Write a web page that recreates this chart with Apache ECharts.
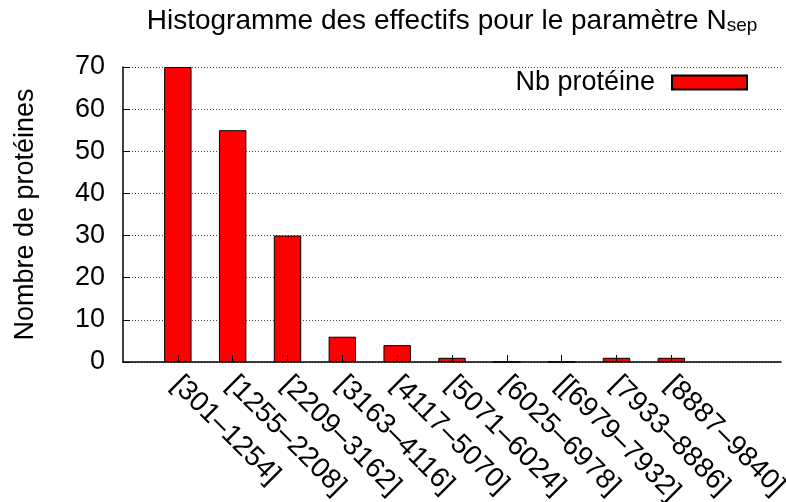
<!DOCTYPE html>
<html>
<head>
<meta charset="utf-8">
<script src="https://cdn.jsdelivr.net/npm/echarts@6/dist/echarts.min.js"></script>
<style>
  html, body { margin: 0; padding: 0; background: #fff; }
  #chart { width: 786px; height: 502px; }
</style>
</head>
<body>
<div id="chart"></div>
<script>
// Histogram of protein counts per N_sep interval
const categories = [
  '[301–1254]', '[1255–2208]', '[2209–3162]', '[3163–4116]', '[4117–5070]',
  '[5071–6024]', '[6025–6978]', '[[6979–7932]', '[7933–8886]', '[8887–9840]'
];
const counts = [70, 55, 30, 6, 4, 1, 0, 0, 1, 1];
const yTicks = { min: 0, max: 70, step: 10 };

// One empty slot on the left, two on the right of the bins
const axisCats = [''].concat(categories, ['', '']);
const axisVals = ['-'].concat(counts, ['-', '-']);
const isBin = (i) => i >= 1 && i <= categories.length;

const FONT = 'Liberation Sans, Arial, Helvetica, sans-serif';

const chart = echarts.init(document.getElementById('chart'), null, { renderer: 'canvas' });
chart.setOption({
  animation: false,
  backgroundColor: '#fff',
  textStyle: { fontFamily: FONT, color: '#000' },
  title: {
    text: '{t|Histogramme des effectifs pour le paramètre N}{s|sep}',
    left: 452,
    top: 5,
    padding: 0,
    textAlign: 'center',
    textStyle: {
      fontWeight: 'normal',
      rich: {
        t: { fontFamily: FONT, fontSize: 28, fontWeight: 'normal', color: '#000', lineHeight: 30, verticalAlign: 'bottom' },
        s: { fontFamily: FONT, fontSize: 19, fontWeight: 'normal', color: '#000', lineHeight: 8, verticalAlign: 'bottom' }
      }
    }
  },
  legend: {
    data: ['Nb protéine'],
    right: 38,
    top: 69,
    padding: 0,
    align: 'right',
    itemWidth: 75,
    itemHeight: 14,
    icon: 'rect',
    textStyle: { fontFamily: FONT, fontSize: 27, color: '#000', padding: [0, 12, 0, 0] }
  },
  grid: { left: 123, right: 5, top: 67, bottom: 140, containLabel: false, outerBoundsMode: 'none' },
  xAxis: {
    type: 'category',
    data: axisCats,
    boundaryGap: false,
    axisLine: { show: true, lineStyle: { color: '#000', width: 1.5 } },
    axisTick: { show: true, inside: true, length: 7, interval: (i) => isBin(i), lineStyle: { color: '#000', width: 1 } },
    axisLabel: {
      interval: (i) => isBin(i),
      rotate: -45,
      margin: 14,
      verticalAlign: 'top',
      lineHeight: 9,
      padding: [0, 0, 0, 2],
      fontFamily: FONT,
      fontSize: 28,
      color: '#000'
    },
    splitLine: { show: false },
    z: 10
  },
  yAxis: {
    type: 'value',
    min: yTicks.min,
    max: yTicks.max,
    interval: yTicks.step,
    name: 'Nombre de protéines',
    nameLocation: 'middle',
    nameGap: 84,
    nameTextStyle: { fontFamily: FONT, fontSize: 27, color: '#000' },
    axisLine: { show: true, lineStyle: { color: '#000', width: 1.5 } },
    axisTick: { show: true, inside: true, length: 7, lineStyle: { color: '#000', width: 1 } },
    axisLabel: { margin: 18, fontFamily: FONT, fontSize: 27, color: '#000' },
    splitLine: { show: true, lineStyle: { color: '#444', width: 1, type: [1, 2] } }
  },
  series: [{
    name: 'Nb protéine',
    type: 'bar',
    data: axisVals,
    barWidth: '50%',
    itemStyle: { color: '#ff0000', borderColor: '#000', borderWidth: 1 }
  }]
});
</script>
</body>
</html>
